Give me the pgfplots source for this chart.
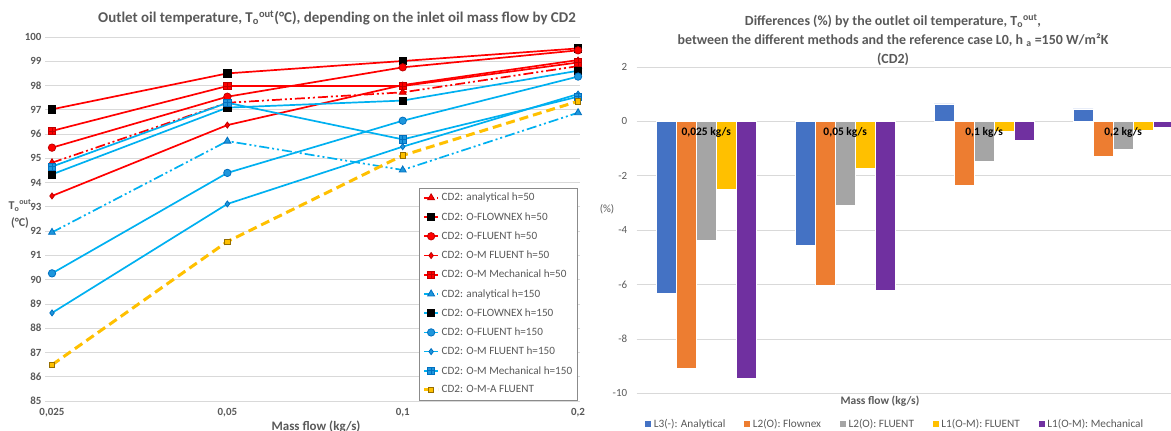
\documentclass[border=0pt]{standalone}
\usepackage{pgfplots}
\pgfplotsset{compat=1.18}
\usepackage{fontspec}
\setmainfont{Carlito}
\definecolor{txt}{RGB}{89,89,89}
\definecolor{gridc}{RGB}{217,217,217}
\definecolor{cred}{RGB}{255,0,0}
\definecolor{dred}{RGB}{192,0,0}
\definecolor{cblue}{RGB}{0,176,240}
\definecolor{mblue}{RGB}{30,150,220}
\definecolor{dblue}{RGB}{0,112,192}
\definecolor{cyel}{RGB}{255,192,0}
\definecolor{dyel}{RGB}{150,110,0}
\definecolor{b1}{RGB}{68,114,196}
\definecolor{b2}{RGB}{237,125,49}
\definecolor{b3}{RGB}{165,165,165}
\definecolor{b4}{RGB}{255,192,0}
\definecolor{b5}{RGB}{112,48,160}
\pgfdeclareplotmark{sqplus}{%
  \pgfpathrectangle{\pgfpoint{-\pgfplotmarksize}{-\pgfplotmarksize}}{\pgfpoint{2\pgfplotmarksize}{2\pgfplotmarksize}}%
  \pgfusepathqfillstroke
  \pgfpathmoveto{\pgfpoint{-\pgfplotmarksize}{0pt}}\pgfpathlineto{\pgfpoint{\pgfplotmarksize}{0pt}}%
  \pgfpathmoveto{\pgfpoint{0pt}{-\pgfplotmarksize}}\pgfpathlineto{\pgfpoint{0pt}{\pgfplotmarksize}}%
  \pgfusepathqstroke}
\tikzset{
  ddot/.style={dash pattern=on 10bp off 3bp on 2bp off 3bp on 2bp off 3bp},
}
\pgfplotsset{
  sqleg/.style={legend image code/.code={\fill[##1] (0bp,-3.5bp) rectangle (7bp,3.5bp);}},
  lineleg/.style={legend image code/.code={\draw[mark repeat=2,mark phase=2,##1] plot coordinates {(0bp,0bp) (7bp,0bp) (14bp,0bp)};}},
  mybar/.style={ybar, bar width=0.144, draw=white, line width=0.5bp, sqleg},
}
\begin{document}
\begin{tikzpicture}
% ---------------- left chart ----------------
\begin{axis}[
  at={(45bp,30bp)}, anchor=south west, scale only axis,
  width=535bp, height=364bp,
  xmin=-0.04, xmax=3.011, ymin=85, ymax=100,
  xtick={0,1,2,3}, xticklabels={{0,025},{0,05},{0,1},{0,2}},
  ytick={85,86,...,100},
  ymajorgrids, grid style={gridc, line width=0.8bp},
  axis line style={draw=none}, major tick length=0pt,
  tick label style={font=\fontsize{11}{13}\selectfont\bfseries, text=txt},
  xticklabel style={yshift=-4bp},
  /pgf/number format/assume math mode=true,
  legend cell align=left,
  legend style={at={(0.996,0.003)}, anchor=south east, draw=txt!70, fill=white,
    font=\fontsize{11.2}{13}\selectfont, text=txt, row sep=6bp, inner sep=3.5bp},
  lineleg,
  every axis plot/.append style={line width=1.7bp},
]
\addplot[cred, ddot, mark=triangle*, mark size=4bp, mark options={solid, line width=0.8bp, fill=cred, draw=dred}]
  coordinates {(0,94.82) (1,97.29) (2,97.72) (3,98.80)};
\addlegendentry{CD2: analytical h=50}
\addplot[cred, mark=square*, mark size=3.6bp, mark options={line width=0.8bp, fill=black, draw=black}]
  coordinates {(0,97.02) (1,98.50) (2,99.01) (3,99.53)};
\addlegendentry{CD2: O-FLOWNEX h=50}
\addplot[cred, mark=*, mark size=3.7bp, mark options={line width=0.8bp, fill=cred, draw=dred}]
  coordinates {(0,95.44) (1,97.54) (2,98.75) (3,99.45)};
\addlegendentry{CD2: O-FLUENT h=50}
\addplot[cred, mark=diamond*, mark size=3bp, mark options={line width=0.8bp, fill=cred, draw=dred}]
  coordinates {(0,93.45) (1,96.37) (2,98.02) (3,99.05)};
\addlegendentry{CD2: O-M FLUENT h=50}
\addplot[cred, mark=sqplus, mark size=3.6bp, mark options={line width=0.8bp, fill=cred, draw=dred}]
  coordinates {(0,96.13) (1,97.98) (2,97.98) (3,98.95)};
\addlegendentry{CD2: O-M Mechanical h=50}
\addplot[cblue, ddot, mark=triangle*, mark size=4bp, mark options={solid, line width=0.8bp, fill=mblue, draw=dblue}]
  coordinates {(0,91.95) (1,95.71) (2,94.52) (3,96.88)};
\addlegendentry{CD2: analytical h=150}
\addplot[cblue, mark=square*, mark size=3.6bp, mark options={line width=0.8bp, fill=black, draw=black}]
  coordinates {(0,94.34) (1,97.09) (2,97.38) (3,98.61)};
\addlegendentry{CD2: O-FLOWNEX h=150}
\addplot[cblue, mark=*, mark size=3.7bp, mark options={line width=0.8bp, fill=mblue, draw=dblue}]
  coordinates {(0,90.26) (1,94.40) (2,96.55) (3,98.37)};
\addlegendentry{CD2: O-FLUENT h=150}
\addplot[cblue, mark=diamond*, mark size=3bp, mark options={line width=0.8bp, fill=mblue, draw=dblue}]
  coordinates {(0,88.63) (1,93.12) (2,95.48) (3,97.65)};
\addlegendentry{CD2: O-M FLUENT h=150}
\addplot[cblue, mark=sqplus, mark size=3.6bp, mark options={line width=0.8bp, fill=mblue, draw=dblue}]
  coordinates {(0,94.66) (1,97.29) (2,95.78) (3,97.54)};
\addlegendentry{CD2: O-M Mechanical h=150}
\addplot[cyel, line width=3bp, dash pattern=on 9bp off 5bp, mark=square*, mark size=2.6bp, mark options={solid, line width=0.8bp, fill=cyel, draw=dyel}]
  coordinates {(0,86.49) (1,91.57) (2,95.12) (3,97.35)};
\addlegendentry{CD2: O-M-A FLUENT}
\end{axis}
\node[font=\fontsize{15}{17}\selectfont\bfseries, text=txt] at (337bp,413bp)
  {Outlet oil temperature, T\textsubscript{o}\textsuperscript{out}(°C), depending on the inlet oil mass flow by CD2};
\node[font=\fontsize{12}{17}\selectfont\bfseries, text=txt, align=center] at (20bp,217bp)
  {T\textsubscript{o}\textsuperscript{out}\\(°C)};
\node[font=\fontsize{13}{16}\selectfont\bfseries, text=txt] at (316bp,4bp) {Mass flow (kg/s)};
% ---------------- right chart ----------------
\begin{axis}[
  at={(636.7bp,37.7bp)}, anchor=south west, scale only axis,
  width=534.3bp, height=326.3bp,
  xmin=-0.5, xmax=3.344, ymin=-10, ymax=2,
  xtick=\empty, ytick={-10,-8,...,2},
  ymajorgrids, grid style={gridc, line width=0.8bp},
  axis line style={draw=none}, major tick length=0pt,
  tick label style={font=\fontsize{11}{13}\selectfont, text=txt},
  yticklabel style={xshift=-6bp},
  /pgf/number format/assume math mode=true,
  legend columns=5,
  legend style={at={(0.483,-0.094)}, anchor=center, draw=none, fill=none,
    font=\fontsize{11.3}{13}\selectfont, text=txt,
    /tikz/every even column/.append style={column sep=16bp}},
]
\addplot[mybar, bar shift=-0.288, fill=b1]
  coordinates {(0,-6.32) (1,-4.55) (2,0.64) (3,0.46)};
\addlegendentry{L3(-): Analytical}
\addplot[mybar, bar shift=-0.144, fill=b2]
  coordinates {(0,-9.08) (1,-6.03) (2,-2.35) (3,-1.28)};
\addlegendentry{L2(O): Flownex}
\addplot[mybar, bar shift=0, fill=b3]
  coordinates {(0,-4.36) (1,-3.09) (2,-1.46) (3,-1.01)};
\addlegendentry{L2(O): FLUENT}
\addplot[mybar, bar shift=0.144, fill=b4]
  coordinates {(0,-2.48) (1,-1.71) (2,-0.36) (3,-0.32)};
\addlegendentry{L1(O-M): FLUENT}
\addplot[mybar, bar shift=0.288, fill=b5]
  coordinates {(0,-9.45) (1,-6.20) (2,-0.68) (3,-0.22)};
\addlegendentry{L1(O-M): Mechanical}
\node[font=\fontsize{11.5}{13}\selectfont\bfseries] at (axis cs:0,-0.4) {0,025 kg/s};
\node[font=\fontsize{11.5}{13}\selectfont\bfseries] at (axis cs:1,-0.4) {0,05 kg/s};
\node[font=\fontsize{11.5}{13}\selectfont\bfseries] at (axis cs:2,-0.4) {0,1 kg/s};
\node[font=\fontsize{11.5}{13}\selectfont\bfseries] at (axis cs:3,-0.4) {0,2 kg/s};
\end{axis}
\node[font=\fontsize{14}{19}\selectfont\bfseries, text=txt, align=center] at (893bp,391bp)
  {Differences (\%) by the outlet oil temperature, T\textsubscript{o}\textsuperscript{out},\\
   between the different methods and the reference case L0, h \textsubscript{a} =150 W/m²K\\(CD2)};
\node[font=\fontsize{11}{13}\selectfont, text=txt] at (607bp,222bp) {(\%)};
\node[font=\fontsize{11.5}{13}\selectfont\bfseries, text=txt] at (880bp,30bp) {Mass flow (kg/s)};
\pgfresetboundingbox
\path[use as bounding box] (0bp,0bp) rectangle (1171bp,431bp);
\end{tikzpicture}
\end{document}
